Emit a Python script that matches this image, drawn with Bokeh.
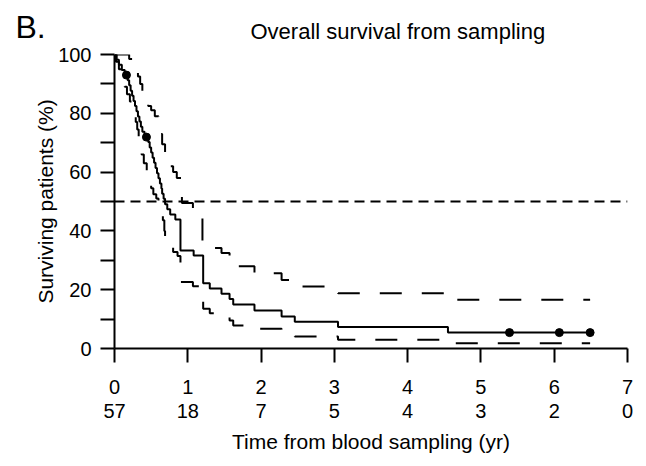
from bokeh.plotting import figure
from bokeh.models import Range1d, FixedTicker, LinearAxis, Span
from bokeh.layouts import column
from bokeh.core.properties import value
from bokeh.embed import file_html
from bokeh.resources import INLINE

# ---- data ----
km_time = [0, 0.03, 0.06, 0.10, 0.14, 0.18, 0.20, 0.22, 0.24, 0.26, 0.28, 0.30, 0.32, 0.34,
           0.36, 0.38, 0.41, 0.46, 0.48, 0.50, 0.52, 0.54, 0.56, 0.58, 0.60, 0.62, 0.64,
           0.65, 0.67, 0.69, 0.72, 0.76, 0.83, 0.90, 1.08, 1.21, 1.30, 1.46, 1.57, 1.62,
           1.91, 2.28, 2.46, 3.05, 4.55, 6.49]
km_surv = [100, 98.2, 96.5, 94.7, 93.0, 91.2, 89.5, 87.7, 86.0, 84.2, 82.5, 80.7, 78.9, 77.2,
           75.4, 73.7, 71.9, 70.2, 68.4, 66.7, 64.9, 63.2, 61.4, 59.6, 57.9, 56.1, 54.4,
           52.6, 50.9, 49.1, 47.4, 45.6, 43.9, 33.3, 31.6, 22.2, 20.4, 18.6, 16.8, 15.0,
           12.9, 10.9, 9.1, 7.3, 5.4, 5.4]

upper_time = [0, 0.20, 0.26, 0.29, 0.32, 0.35, 0.38, 0.42, 0.46, 0.50, 0.55, 0.60, 0.62, 0.65,
              0.69, 0.72, 0.76, 0.80, 0.85, 0.92, 1.07, 1.20, 1.30, 1.46, 1.57, 1.62, 1.91,
              2.28, 2.46, 3.05, 4.55, 6.49]
upper_surv = [100, 98.5, 96.5, 94.5, 92.5, 90.0, 87.5, 85.5, 82.5, 81.0, 79.0, 77.0, 73.0, 69.5,
              66.0, 64.0, 62.0, 60.0, 58.0, 49.5, 47.5, 36.0, 34.2, 32.5, 30.5, 28.0, 25.6,
              23.3, 21.1, 18.8, 16.6, 16.6]

lower_time = [0, 0.02, 0.06, 0.10, 0.14, 0.17, 0.21, 0.24, 0.27, 0.29, 0.31, 0.33, 0.35, 0.37,
              0.40, 0.44, 0.47, 0.50, 0.53, 0.57, 0.60, 0.63, 0.66, 0.68, 0.69, 0.75, 0.80,
              0.86, 0.90, 1.07, 1.17, 1.21, 1.30, 1.46, 1.57, 1.62, 1.91, 2.28, 2.46, 3.05,
              4.55, 6.49]
lower_surv = [100, 97.5, 95.0, 92.0, 89.0, 86.5, 84.0, 81.5, 79.0, 77.0, 74.5, 72.0, 69.5, 66.0,
              63.0, 60.5, 58.0, 54.5, 52.5, 51.0, 49.3, 46.0, 43.6, 40.0, 36.8, 34.5, 32.8,
              31.5, 22.6, 21.2, 20.0, 13.5, 12.0, 10.7, 9.5, 7.8, 6.7, 5.0, 4.1, 3.0,
              1.8, 1.8]

censor_time = [0.163, 0.436, 5.39, 6.07, 6.49]
censor_surv = [93.0, 71.9, 5.4, 5.4, 5.4]

median_level = 50

year_ticks = [0, 1, 2, 3, 4, 5, 6, 7]
at_risk = [57, 18, 7, 5, 4, 3, 2, 0]
y_ticks = [0, 20, 40, 60, 80, 100]
y_minor = [10, 30, 50, 70, 90]

panel_letter = "B."
title_text = "Overall survival from sampling"

FONT = "Liberation Sans"
W = 646
HEAD_H = 45

# ---- header strip (panel letter + title) ----
head = figure(width=W, height=HEAD_H, output_backend="svg", toolbar_location=None,
              x_range=Range1d(0, W), y_range=Range1d(HEAD_H, 0),
              x_axis_location=None, y_axis_location=None,
              min_border=0, min_border_left=0, min_border_right=0,
              min_border_top=0, min_border_bottom=0)
head.frame_align = False
head.outline_line_color = None
head.xgrid.visible = False
head.ygrid.visible = False
head.border_fill_color = "white"
head.text(x=[15], y=[26], text=[panel_letter], text_font=value(FONT),
          text_font_size=value("32px"), text_baseline="middle", text_align="left",
          text_color="black")
head.text(x=[250], y=[31], text=[title_text], text_font=value(FONT),
          text_font_size=value("22px"), text_baseline="middle", text_align="left",
          text_color="black")

# ---- main plot ----
p = figure(width=W, height=466 - HEAD_H, output_backend="svg", toolbar_location=None,
           x_range=Range1d(0, 7), y_range=Range1d(0, 100),
           x_axis_location=None, y_axis_location=None,
           min_border_left=114, min_border_right=19, min_border_top=54 - HEAD_H,
           min_border_bottom=118)
p.frame_align = False
p.outline_line_color = None
p.xgrid.visible = False
p.ygrid.visible = False
p.background_fill_color = "white"
p.border_fill_color = "white"

# y axis
yax = LinearAxis(ticker=FixedTicker(ticks=y_ticks, minor_ticks=y_minor),
                 axis_label="Surviving patients (%)")
yax.axis_line_width = 2
yax.axis_line_color = "black"
yax.major_tick_line_width = 2
yax.minor_tick_line_width = 2
yax.major_tick_out = 14
yax.major_tick_in = 0
yax.minor_tick_out = 14
yax.minor_tick_in = 0
yax.major_label_standoff = 9
yax.major_label_text_font = FONT
yax.major_label_text_font_size = "20px"
yax.major_label_text_color = "black"
yax.axis_label_text_font = FONT
yax.axis_label_text_font_size = "21px"
yax.axis_label_text_font_style = "normal"
yax.axis_label_text_color = "black"
yax.axis_label_standoff = -2
p.add_layout(yax, "left")

# x axis (years)
xax = LinearAxis(ticker=FixedTicker(ticks=year_ticks, minor_ticks=[]))
xax.axis_line_width = 2
xax.major_tick_line_width = 2
xax.major_tick_out = 14
xax.major_tick_in = 0
xax.minor_tick_out = 0
xax.major_label_standoff = 17
xax.major_label_text_font = FONT
xax.major_label_text_font_size = "20px"
xax.major_label_text_color = "black"
p.add_layout(xax, "below")

# number-at-risk row as a second axis
rax = LinearAxis(ticker=FixedTicker(ticks=year_ticks, minor_ticks=[]),
                 axis_label="Time from blood sampling (yr)")
rax.major_label_overrides = {t: str(n) for t, n in zip(year_ticks, at_risk)}
rax.axis_line_color = None
rax.major_tick_line_color = None
rax.minor_tick_line_color = None
rax.major_tick_out = 0
rax.major_tick_in = 0
rax.major_label_standoff = 7
rax.major_label_text_font = FONT
rax.major_label_text_font_size = "20px"
rax.major_label_text_color = "black"
rax.axis_label_text_font = FONT
rax.axis_label_text_font_size = "21px"
rax.axis_label_text_font_style = "normal"
rax.axis_label_text_color = "black"
rax.axis_label_standoff = 9
p.add_layout(rax, "below")

# median reference line
p.add_layout(Span(location=median_level, dimension="width", line_color="black",
                  line_width=2, line_dash="10 6"))

# confidence bands
p.step(upper_time, upper_surv, mode="after", line_color="black", line_width=2,
       line_dash="22 20")
p.step(lower_time, lower_surv, mode="after", line_color="black", line_width=2,
       line_dash="22 20")
# KM estimate
p.step(km_time, km_surv, mode="after", line_color="black", line_width=2)
p.scatter(censor_time, censor_surv, size=8, color="black")

layout = column(head, p, spacing=0)
open("out.html", "w").write(file_html(layout, INLINE))
